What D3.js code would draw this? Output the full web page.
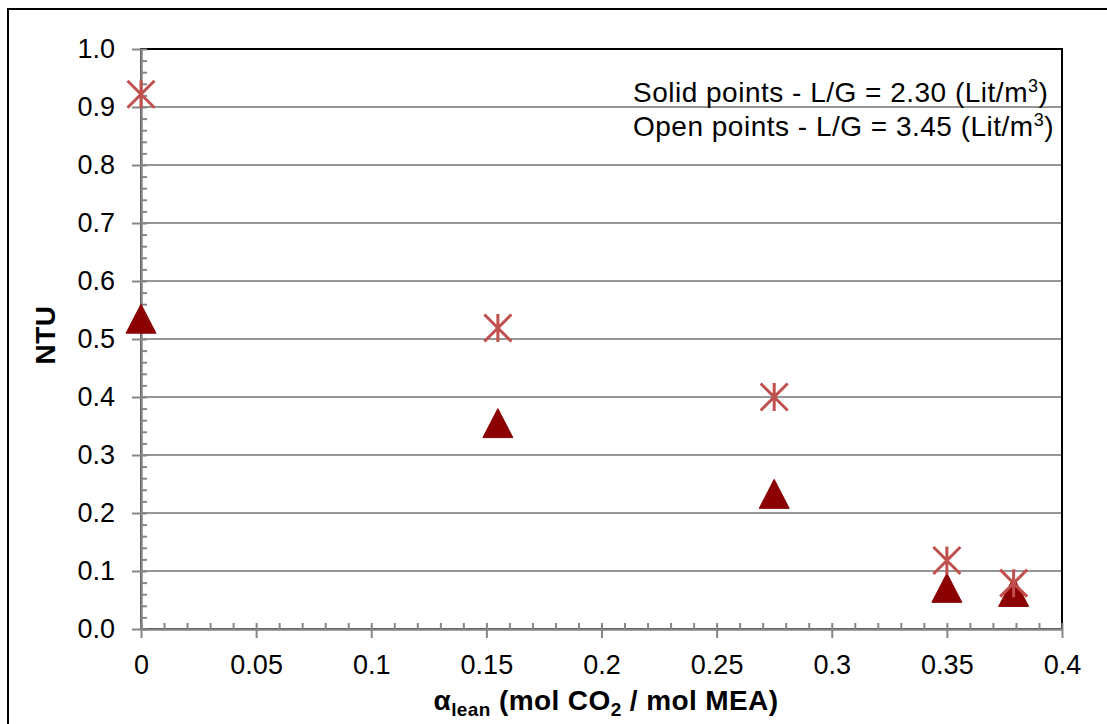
<!DOCTYPE html>
<html>
<head>
<meta charset="utf-8">
<script src="https://cdn.jsdelivr.net/npm/d3@7"></script>
<style>
  body { margin: 0; background: #fff; }
  svg { display: block; font-family: "Liberation Sans", Arial, sans-serif; }
</style>
</head>
<body>
<svg id="chart"></svg>
<script>
const WIDTH = 1107;
const HEIGHT = 724;

// alpha lean values
const alphaLean = [0, 0.155, 0.275, 0.35, 0.379];
// solid points, L/G = 2.30
const ntuSolid = [0.535, 0.355, 0.233, 0.071, 0.064];
// open points, L/G = 3.45
const ntuOpen = [0.922, 0.519, 0.40, 0.118, 0.079];

const xTicks = [0, 0.05, 0.1, 0.15, 0.2, 0.25, 0.3, 0.35, 0.4];
const xTickLabels = ['0', '0.05', '0.1', '0.15', '0.2', '0.25', '0.3', '0.35', '0.4'];
const yTicks = [0, 0.1, 0.2, 0.3, 0.4, 0.5, 0.6, 0.7, 0.8, 0.9, 1.0];
const yTickLabels = ['0.0', '0.1', '0.2', '0.3', '0.4', '0.5', '0.6', '0.7', '0.8', '0.9', '1.0'];
const legendLines = ['Solid points - L/G = 2.30 (Lit/m', 'Open points - L/G = 3.45 (Lit/m'];

const margin = { left: 141, right: 1062, top: 49, bottom: 629 };

const xScale = d3.scaleLinear().domain([0, 0.4]).range([margin.left, margin.right]);
const yScale = d3.scaleLinear().domain([0, 1]).range([margin.bottom, margin.top]);

const svg = d3.select('#chart')
  .attr('width', WIDTH)
  .attr('height', HEIGHT);

// outer chart border (runs off the picture on right/bottom)
svg.append('rect')
  .attr('x', 8).attr('y', 9)
  .attr('width', 1130).attr('height', 740)
  .attr('fill', 'none')
  .attr('stroke', '#000')
  .attr('stroke-width', 2);

// gridlines
svg.append('g')
  .selectAll('line')
  .data(yTicks.filter(d => d > 0 && d < 1))
  .enter()
  .append('line')
  .attr('x1', margin.left).attr('x2', margin.right)
  .attr('y1', d => yScale(d)).attr('y2', d => yScale(d))
  .attr('stroke', '#969696')
  .attr('stroke-width', 2);

// plot area border
svg.append('rect')
  .attr('x', margin.left).attr('y', margin.top)
  .attr('width', margin.right - margin.left)
  .attr('height', margin.bottom - margin.top)
  .attr('fill', 'none')
  .attr('stroke', '#000')
  .attr('stroke-width', 2);

function styleAxis(g) {
  g.select('.domain').attr('stroke', '#868686').attr('stroke-width', 2);
  g.selectAll('.tick line').attr('stroke', '#868686').attr('stroke-width', 2);
  g.selectAll('text').attr('font-size', 27).attr('fill', '#000')
    .style('font-family', '"Liberation Sans", Arial, sans-serif');
}

// minor ticks (inside)
const xMinor = d3.range(0, 0.4001, 0.01);
const yMinor = d3.range(0, 1.0001, 0.02);

svg.append('g')
  .attr('transform', `translate(0, ${margin.bottom})`)
  .call(d3.axisTop(xScale).tickValues(xMinor).tickSize(6).tickSizeOuter(0).tickFormat(''))
  .call(styleAxis);

svg.append('g')
  .attr('transform', `translate(${margin.left}, 0)`)
  .call(d3.axisRight(yScale).tickValues(yMinor).tickSize(6).tickSizeOuter(0).tickFormat(''))
  .call(styleAxis);

// major ticks and labels
svg.append('g')
  .attr('transform', `translate(0, ${margin.bottom})`)
  .call(d3.axisBottom(xScale).tickValues(xTicks).tickSize(9).tickSizeOuter(0).tickPadding(17)
    .tickFormat((d, i) => xTickLabels[i]))
  .call(styleAxis);

svg.append('g')
  .attr('transform', `translate(${margin.left}, 0)`)
  .call(d3.axisLeft(yScale).tickValues(yTicks).tickSize(9).tickSizeOuter(0).tickPadding(17)
    .tickFormat((d, i) => yTickLabels[i]))
  .call(styleAxis);

// solid triangles
const triangle = 'M0,-14.5L15,14.5L-15,14.5Z';
svg.append('g')
  .selectAll('path')
  .data(alphaLean.map((a, i) => ({ a: a, v: ntuSolid[i] })))
  .enter()
  .append('path')
  .attr('d', triangle)
  .attr('transform', d => `translate(${xScale(d.a)}, ${yScale(d.v)})`)
  .attr('fill', '#8B0000')
  .attr('stroke', '#8B0000')
  .attr('stroke-width', 1)
  .attr('stroke-linejoin', 'round');

// open asterisks
const star = 'M-13.5,-13.5L13.5,13.5M-13.5,13.5L13.5,-13.5M0,-14L0,14';
svg.append('g')
  .selectAll('path')
  .data(alphaLean.map((a, i) => ({ a: a, v: ntuOpen[i] })))
  .enter()
  .append('path')
  .attr('d', star)
  .attr('transform', d => `translate(${xScale(d.a)}, ${yScale(d.v)})`)
  .attr('fill', 'none')
  .attr('stroke', '#C0504D')
  .attr('stroke-width', 3);

// legend text (left aligned)
const legend = svg.append('g')
  .attr('font-size', 28)
  .attr('letter-spacing', 0.5)
  .attr('text-anchor', 'start');
legendLines.forEach((line, i) => {
  const t = legend.append('text')
    .attr('x', 633)
    .attr('y', 102 + i * 34);
  t.append('tspan').text(line);
  t.append('tspan').attr('font-size', 18).attr('dy', -10).text('3');
  t.append('tspan').attr('dy', 10).text(')');
});

// y axis title
svg.append('text')
  .attr('transform', 'translate(55, 335) rotate(-90)')
  .attr('text-anchor', 'middle')
  .attr('font-size', 28)
  .attr('letter-spacing', 0.5)
  .attr('font-weight', 'bold')
  .text('NTU');

// x axis title
const xt = svg.append('text')
  .attr('x', 606)
  .attr('y', 710)
  .attr('text-anchor', 'middle')
  .attr('font-size', 28)
  .attr('letter-spacing', 0.4)
  .attr('font-weight', 'bold');
xt.append('tspan').text('α');
xt.append('tspan').attr('font-size', 19).attr('dy', 6).text('lean');
xt.append('tspan').attr('dy', -6).text(' (mol CO');
xt.append('tspan').attr('font-size', 19).attr('dy', 6).text('2');
xt.append('tspan').attr('dy', -6).text(' / mol MEA)');
</script>
</body>
</html>
